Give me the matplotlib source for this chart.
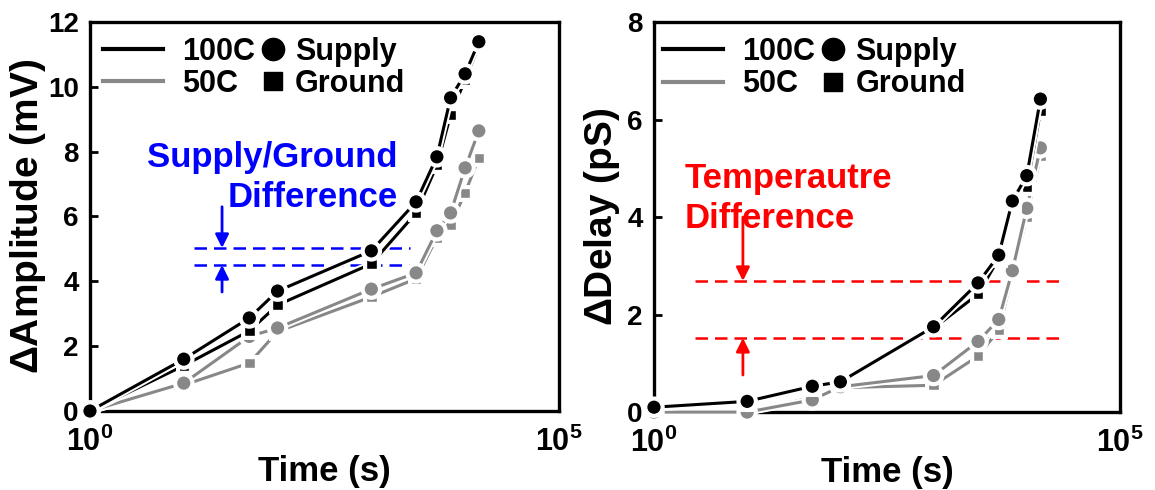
import matplotlib
matplotlib.use("Agg")
import matplotlib.pyplot as plt
import matplotlib.patheffects as pe
from matplotlib.lines import Line2D

plt.rcParams['font.family'] = ['Liberation Sans', 'DejaVu Sans']
plt.rcParams['font.weight'] = 'bold'
plt.rcParams['mathtext.fontset'] = 'custom'
plt.rcParams['mathtext.rm'] = 'Liberation Sans:bold'
plt.rcParams['mathtext.bf'] = 'Liberation Sans:bold'
plt.rcParams['mathtext.default'] = 'bf'

# stress time points (s)
times = [1, 10, 50, 100, 1000, 3000, 5000, 7000, 10000, 14000]

# amplitude shift (mV)
amp_100_supply = [0, 1.60, 2.87, 3.70, 4.94, 6.45, 7.84, 9.66, 10.40, 11.39]
amp_100_ground = [0, 1.40, 2.47, 3.27, 4.54, 6.11, 7.58, 9.13, 10.22, 11.27]
amp_50_supply = [0, 0.86, 2.30, 2.56, 3.76, 4.26, 5.56, 6.11, 7.50, 8.64]
amp_50_ground = [0, 0.80, 1.48, 2.45, 3.52, 4.08, 5.35, 5.74, 6.73, 7.81]

# delay shift (pS)
dly_100_supply = [0.10, 0.22, 0.53, 0.62, 1.75, 2.65, 3.22, 4.33, 4.85, 6.42]
dly_100_ground = [0.08, 0.20, 0.50, 0.60, 1.72, 2.42, 3.15, 4.28, 4.62, 6.17]
dly_50_supply = [0.0, 0.0, 0.25, 0.52, 0.75, 1.45, 1.90, 2.90, 4.18, 5.42]
dly_50_ground = [0.0, 0.0, 0.30, 0.50, 0.55, 1.15, 1.68, 2.82, 4.00, 5.25]

# annotation levels
sg_levels = [5.03, 4.50]
temp_levels = [2.69, 1.52]

GRAY = '#888888'
halo = [pe.Stroke(linewidth=5, foreground='white'), pe.Normal()]

fig = plt.figure(figsize=(11.55, 4.9), dpi=100)
ax1 = fig.add_axes([0.0779, 0.1612, 0.406, 0.794])
ax2 = fig.add_axes([0.5662, 0.159, 0.4035, 0.796])


def draw_series(ax, s100, g100, s50, g50):
    for ys, color, mk, ms in [(g50, GRAY, 's', 7.5), (s50, GRAY, 'o', 10.5),
                              (g100, 'black', 's', 7.5), (s100, 'black', 'o', 10.5)]:
        ax.plot(times, ys, color=color, lw=2.2, marker=mk, ms=ms,
                mec='white', mew=1.0, clip_on=False, zorder=3,
                path_effects=halo)


def style_axes(ax, ymax, ylabel, ypad):
    ax.set_xscale('log')
    ax.set_xlim(1, 1e5)
    ax.set_ylim(0, ymax)
    ax.set_xticks([1, 1e5])
    ax.set_xticklabels([r'$\mathbf{10^{0}}$', r'$\mathbf{10^{5}}$'])
    ax.xaxis.set_minor_locator(plt.NullLocator())
    ax.set_yticks(range(0, ymax + 1, 2))
    ax.tick_params(axis='y', direction='in', length=6, width=2, pad=8, labelsize=20)
    ax.tick_params(axis='x', direction='in', length=0, pad=11, labelsize=22)
    for sp in ax.spines.values():
        sp.set_linewidth(2.4)
    ax.set_xlabel('Time (s)', fontsize=25, fontweight='bold', labelpad=-2)
    ax.set_ylabel(ylabel, fontsize=28, fontweight='bold', labelpad=ypad)


def add_legend(ax, x_line, x_mark):
    font = {'size': 22, 'weight': 'bold'}
    lines = [Line2D([], [], color='black', lw=3),
             Line2D([], [], color=GRAY, lw=3)]
    leg1 = ax.legend(lines, ['100C', '50C'], loc='upper left',
                     bbox_to_anchor=(x_line, 0.962), frameon=False,
                     borderpad=0, borderaxespad=0, handlelength=1.96,
                     handletextpad=0.62, labelspacing=0.08, prop=font)
    ax.add_artist(leg1)
    marks = [Line2D([], [], color='black', marker='o', ms=16, ls='none'),
             Line2D([], [], color='black', marker='s', ms=13, ls='none')]
    ax.legend(marks, ['Supply', 'Ground'], loc='upper left',
              bbox_to_anchor=(x_mark, 0.962), frameon=False,
              borderpad=0, borderaxespad=0, handlelength=0.8,
              handletextpad=0.33, labelspacing=0.08, prop=font)


# amplitude panel
draw_series(ax1, amp_100_supply, amp_100_ground, amp_50_supply, amp_50_ground)
style_axes(ax1, 12, r'$\Delta$Amplitude (mV)', 0)
add_legend(ax1, 0.028, 0.364)
for lvl in sg_levels:
    ax1.plot([13, 2600], [lvl, lvl], color='blue', lw=1.8,
             linestyle=(0, (5, 2.8)), zorder=2)
ax1.annotate('', xy=(25.6, sg_levels[0]), xytext=(25.6, 6.3),
             arrowprops=dict(arrowstyle='-|>', color='blue', lw=2,
                             mutation_scale=20, shrinkA=0, shrinkB=0))
ax1.annotate('', xy=(25.6, sg_levels[1]), xytext=(25.6, 3.67),
             arrowprops=dict(arrowstyle='-|>', color='blue', lw=2,
                             mutation_scale=20, shrinkA=0, shrinkB=0))
ax1.text(1920, 7.53, 'Supply/Ground', color='blue', fontsize=25,
         fontweight='bold', ha='right', va='baseline')
ax1.text(1920, 6.30, 'Difference', color='blue', fontsize=25,
         fontweight='bold', ha='right', va='baseline')

# delay panel
draw_series(ax2, dly_100_supply, dly_100_ground, dly_50_supply, dly_50_ground)
style_axes(ax2, 8, r'$\Delta$Delay (pS)', 4)
add_legend(ax2, 0.019, 0.358)
for lvl in temp_levels:
    ax2.plot([2.75, 24000], [lvl, lvl], color='red', lw=1.8,
             linestyle=(0, (5, 2.8)), zorder=2)
ax2.annotate('', xy=(9, temp_levels[0]), xytext=(9, 4.0),
             arrowprops=dict(arrowstyle='-|>', color='red', lw=2,
                             mutation_scale=20, shrinkA=0, shrinkB=0))
ax2.annotate('', xy=(9, temp_levels[1]), xytext=(9, 0.76),
             arrowprops=dict(arrowstyle='-|>', color='red', lw=2,
                             mutation_scale=20, shrinkA=0, shrinkB=0))
ax2.text(2.15, 4.59, 'Temperautre', color='red', fontsize=25,
         fontweight='bold', ha='left', va='baseline')
ax2.text(2.15, 3.77, 'Difference', color='red', fontsize=25,
         fontweight='bold', ha='left', va='baseline')

fig.savefig('out.png', dpi=100)
